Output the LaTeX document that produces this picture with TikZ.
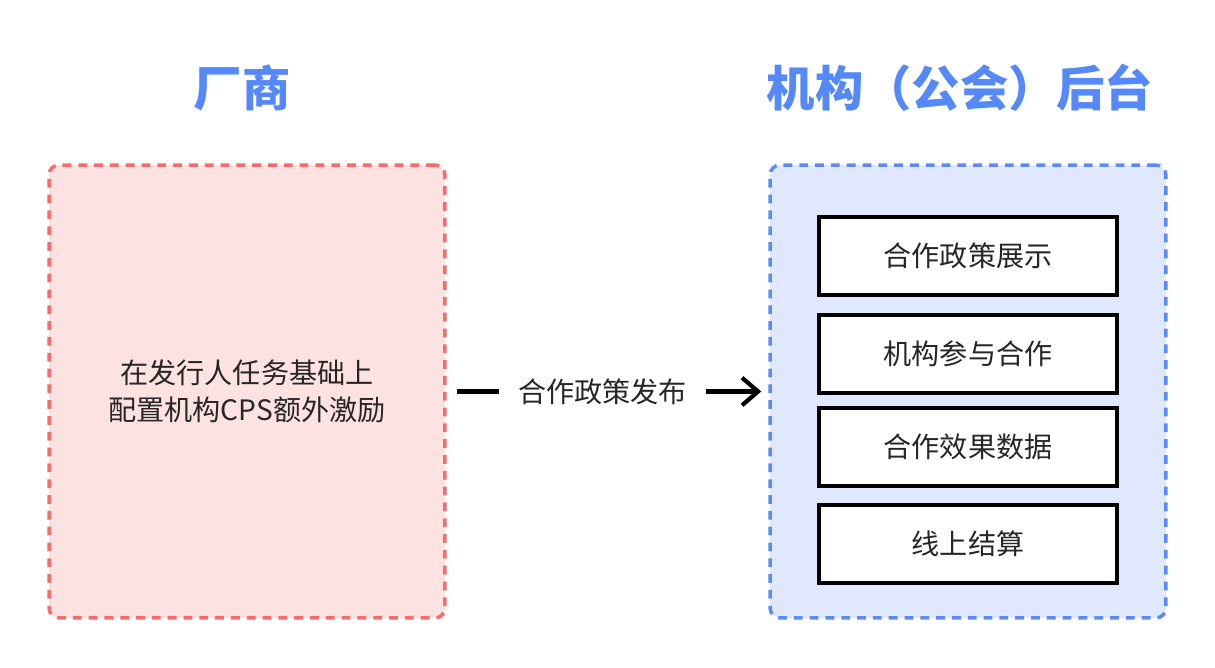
\documentclass[tikz,border=0pt]{standalone}
\usepackage{fontspec}
\setmainfont{Noto Sans CJK SC}
\usepackage{tikz}
\usetikzlibrary{arrows.meta, positioning, calc}

\definecolor{vendred}{HTML}{F76B6B}
\definecolor{vendfill}{HTML}{FDE2E2}
\definecolor{orgblue}{HTML}{5B8CF6}
\definecolor{orgfill}{HTML}{DFE8FC}
\definecolor{titleblue}{HTML}{5588F8}
\definecolor{textgray}{HTML}{262626}

\tikzset{
  panel/.style={rounded corners=0.2cm, line width=2pt, dash pattern=on 5pt off 4pt,
    minimum width=7.92cm, minimum height=9.06cm, align=center,
    font=\fontsize{16pt}{21pt}\selectfont, text=textgray},
  title/.style={font=\fontsize{27.5pt}{32pt}\selectfont\bfseries, text=titleblue},
  itembox/.style={draw=black, fill=white, line width=2.2pt, minimum width=5.96cm,
    minimum height=1.56cm, font=\fontsize{16pt}{18pt}\selectfont, text=textgray}
}

\begin{document}
\begin{tikzpicture}[x=0.02cm, y=-0.02cm]
\useasboundingbox[fill=white] (0,0) rectangle (1215,668);

% Titles
\node[title] (vtitle) at (242,88) {厂商};
\node[title] (otitle) at (960,88) {机构（公会）后台};

% Vendor panel
\node[panel, draw=vendred, fill=vendfill] (vendor) at (247,391.5)
  {在发行人任务基础上\\配置机构CPS额外激励};

% Organisation back-end panel
\node[panel, draw=orgblue, fill=orgfill] (org) at (968,391.5) {};

% Functions inside the back-end
\node[itembox] (show) at (968,256) {合作政策展示};
\node[itembox] (join) at (968,354) {机构参与合作};
\node[itembox] (data) at (968,447) {合作效果数据};
\node[itembox] (settle) at (968,544) {线上结算};

% Policy release
\draw[-{Straight Barb[length=0.32cm, width=0.55cm, line width=2.4pt]}, line width=2.4pt,
  shorten <=0.2cm, shorten >=0.14cm] (vendor.east) -- node[pos=0.485, fill=white, inner sep=0.38cm,
  font=\fontsize{16pt}{18pt}\selectfont, text=textgray] (release) {合作政策发布} (org.west);
\end{tikzpicture}
\end{document}
